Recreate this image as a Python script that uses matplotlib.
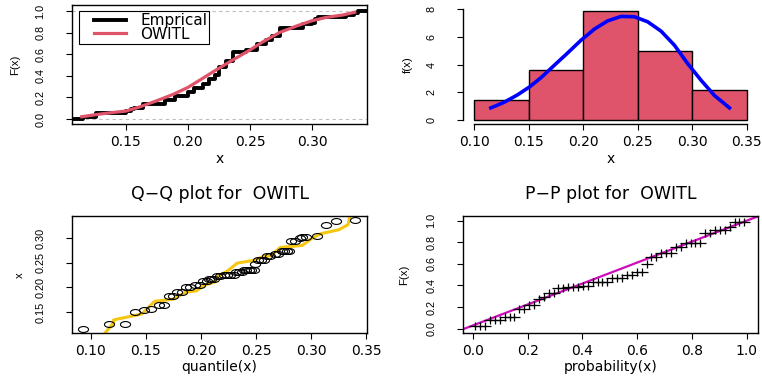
import numpy as np
import matplotlib
matplotlib.use("Agg")
import matplotlib.pyplot as plt
from matplotlib.lines import Line2D
from matplotlib.legend_handler import HandlerLine2D
from matplotlib.markers import MarkerStyle
from matplotlib.transforms import Affine2D

# sorted sample (n = 56), read from the ECDF / Q-Q panels
sample_x = [0.116, 0.126, 0.126, 0.150,
            0.154, 0.157, 0.164, 0.164, 0.182, 0.182, 0.190, 0.190, 0.200, 0.200,
            0.205, 0.205, 0.212, 0.212, 0.217, 0.217, 0.217, 0.222, 0.222,
            0.225, 0.225, 0.225, 0.225, 0.231, 0.231, 0.231,
            0.236, 0.236, 0.236, 0.236, 0.236, 0.247,
            0.256, 0.256, 0.256, 0.263, 0.263, 0.268, 0.268,
            0.274, 0.274, 0.274, 0.274, 0.293, 0.293, 0.300,
            0.302, 0.302, 0.305, 0.327, 0.334, 0.337]

# fitted OWITL cdf
cdf_x = [0.1146, 0.1267, 0.140, 0.150, 0.1615, 0.175, 0.188, 0.200, 0.2097, 0.2204,
         0.2338, 0.250, 0.2606, 0.274, 0.2875, 0.300, 0.3116, 0.3249, 0.3343]
cdf_y = [0.022, 0.043, 0.062, 0.074, 0.114, 0.170, 0.228, 0.293, 0.361, 0.438,
         0.531, 0.639, 0.716, 0.802, 0.861, 0.910, 0.941, 0.963, 0.988]

# histogram (density scale) and fitted density
hist_edges = [0.10, 0.15, 0.20, 0.25, 0.30, 0.35]
hist_density = [1.43, 3.57, 7.86, 5.00, 2.14]
pdf_x = [0.1153, 0.1275, 0.1398, 0.1505, 0.1612, 0.1734, 0.1857, 0.1979, 0.2102, 0.2224,
         0.2346, 0.2469, 0.2591, 0.2714, 0.2836, 0.2958, 0.3081, 0.3203, 0.3341]
pdf_y = [0.85, 1.26, 1.80, 2.36, 3.04, 3.94, 4.84, 5.76, 6.57, 7.17,
         7.49, 7.47, 7.10, 6.42, 5.40, 4.06, 2.85, 1.75, 0.85]

# Q-Q: theoretical quantiles for each sorted observation
qq_theo = [0.093, 0.117, 0.131, 0.140, 0.148, 0.155, 0.162, 0.166, 0.171, 0.175,
           0.178, 0.183, 0.186, 0.190, 0.195, 0.199, 0.202, 0.205, 0.207, 0.209,
           0.212, 0.2145, 0.2175, 0.2206, 0.2236, 0.2266, 0.2296, 0.232, 0.2345, 0.237,
           0.2388, 0.241, 0.2433, 0.2457, 0.2478, 0.2494, 0.2515, 0.2545, 0.2575, 0.260,
           0.263, 0.2667, 0.2697, 0.273, 0.2755, 0.278, 0.280, 0.2818, 0.2855, 0.2894,
           0.2918, 0.2948, 0.3055, 0.313, 0.322, 0.340]
qq_line_x = [0.113, 0.1206, 0.1208, 0.1464, 0.158, 0.175, 0.186, 0.196, 0.2024, 0.213,
             0.216, 0.2236, 0.2327, 0.2478, 0.257, 0.263, 0.272, 0.2918, 0.301, 0.3085,
             0.325, 0.3333, 0.335]
qq_line_y = [0.1074, 0.128, 0.134, 0.146, 0.1717, 0.176, 0.190, 0.193, 0.204, 0.211,
             0.2236, 0.2325, 0.249, 0.2548, 0.263, 0.264, 0.281, 0.285, 0.300, 0.3087,
             0.3168, 0.327, 0.344]

# P-P: fitted probability for each sorted observation
pp_fit = [0.028, 0.028, 0.028, 0.078, 0.078, 0.078, 0.112, 0.112, 0.112,
          0.183, 0.183, 0.220, 0.220, 0.272, 0.290, 0.326, 0.326, 0.378, 0.378,
          0.387, 0.387, 0.387, 0.395, 0.395, 0.435, 0.435, 0.435, 0.435,
          0.467, 0.467, 0.467, 0.497, 0.497, 0.522, 0.522, 0.599, 0.667, 0.667,
          0.698, 0.698, 0.698, 0.754, 0.754, 0.790, 0.790, 0.790, 0.790,
          0.889, 0.889, 0.914, 0.914, 0.914, 0.939, 0.985, 0.985, 0.985]
pp_ref_x = [0.0, 1.0]
pp_ref_y = [0.03, 1.0]

RED = "#DF536B"
BLUE = "#0000FF"
YELLOW = "#F5C710"
MAGENTA = "#CD0BBC"
HFONT = "DejaVu Sans"
VFONT = "Liberation Sans"

plt.rcParams["font.family"] = HFONT
plt.rcParams["axes.linewidth"] = 1.0

fig = plt.figure(figsize=(7.62, 3.77), dpi=100)
ax_cdf = fig.add_axes([0.0949, 0.6711, 0.3864, 0.3156])
ax_hist = fig.add_axes([0.6080, 0.6711, 0.3864, 0.3156])
ax_qq = fig.add_axes([0.0949, 0.1167, 0.3864, 0.3095])
ax_pp = fig.add_axes([0.6080, 0.1167, 0.3864, 0.3095])


def style(ax, xticks, yticks, xfmt, yfmt, xlabel, ylabel, ylab_x):
    ax.set_xticks(xticks)
    ax.set_yticks(yticks)
    ax.set_xticklabels([xfmt % v for v in xticks], fontsize=10, fontfamily=HFONT)
    ax.set_yticklabels([yfmt % v for v in yticks], fontsize=7.8, fontfamily=VFONT,
                       rotation=90, va="center")
    ax.tick_params(axis="x", direction="out", length=4.3, width=0.8, pad=3.5)
    ax.tick_params(axis="y", direction="out", length=4.3, width=0.8, pad=15)
    ax.set_xlabel(xlabel, fontsize=10, fontfamily=HFONT, va="center")
    ax.set_ylabel(ylabel, fontsize=8.2, fontfamily=VFONT, va="center")
    ax.xaxis.set_label_coords(0.5, -0.295)
    ax.yaxis.set_label_coords(ylab_x, 0.5)


def title(ax, text):
    ax.text(0.5, 1.19, text, transform=ax.transAxes, ha="center", va="center",
            fontsize=12.5, fontfamily=HFONT)


# ---- ECDF vs fitted cdf ----
xs = np.sort(np.array(sample_x))
n = len(xs)
xlo, xhi = 0.107, 0.344
ax_cdf.set_xlim(xlo, xhi)
ax_cdf.set_ylim(-0.045, 1.055)
ax_cdf.axhline(0, color="#BEBEBE", ls=(0, (3, 3)), lw=0.8)
ax_cdf.axhline(1, color="#BEBEBE", ls=(0, (3, 3)), lw=0.8)
ax_cdf.step(np.r_[xlo, xs, xhi], np.r_[0, np.arange(1, n + 1) / n, 1], where="post",
            color="black", lw=2.8, label="Emprical")
ax_cdf.plot(cdf_x, cdf_y, color=RED, lw=2.3, label="OWITL")
leg = ax_cdf.legend(loc="upper left", bbox_to_anchor=(0.0228, 0.9496), borderaxespad=0,
                    fancybox=False, edgecolor="black", framealpha=1, fontsize=11,
                    handlelength=2.95, handletextpad=0.9, borderpad=0.15,
                    labelspacing=-0.1, handler_map={Line2D: HandlerLine2D(xpad=0.85)})
leg.get_frame().set_linewidth(0.8)
style(ax_cdf, [0.15, 0.20, 0.25, 0.30], [0.0, 0.2, 0.4, 0.6, 0.8, 1.0], "%.2f", "%.1f",
      "x", "F(x)", -0.195)

# ---- histogram + density ----
ax_hist.bar(hist_edges[:-1], hist_density, width=np.diff(hist_edges), align="edge",
            color=RED, edgecolor="black", linewidth=1.0)
ax_hist.plot(pdf_x, pdf_y, color=BLUE, lw=2.6)
ax_hist.set_xlim(0.09, 0.36)
ax_hist.set_ylim(-0.32, 8.32)
for side in ["top", "right"]:
    ax_hist.spines[side].set_visible(False)
ax_hist.spines["bottom"].set_bounds(0.10, 0.35)
ax_hist.spines["left"].set_bounds(0, 8)
style(ax_hist, [0.10, 0.15, 0.20, 0.25, 0.30, 0.35], [0, 2, 4, 6, 8], "%.2f", "%d",
      "x", "f(x)", -0.188)

# ---- Q-Q ----
ell = MarkerStyle("o", fillstyle="none", transform=Affine2D().scale(1.45, 0.85))
ax_qq.plot(qq_line_x, qq_line_y, color=YELLOW, lw=2.2)
ax_qq.plot(qq_theo, xs, ls="none", marker=ell, ms=5, mec="black", mew=0.8)
ax_qq.set_xlim(0.0833, 0.3503)
ax_qq.set_ylim(0.1074, 0.344)
style(ax_qq, [0.10, 0.15, 0.20, 0.25, 0.30, 0.35], [0.15, 0.20, 0.25, 0.30], "%.2f", "%.2f",
      "quantile(x)", "x", -0.178)
title(ax_qq, "Q\u2212Q plot for  OWITL")

# ---- P-P ----
pp_emp = (np.arange(1, n + 1) - 0.5) / n
plus = MarkerStyle("+", transform=Affine2D().scale(1.5, 0.9))
ax_pp.axline((pp_ref_x[0], pp_ref_y[0]), (pp_ref_x[1], pp_ref_y[1]), color=MAGENTA, lw=1.6)
ax_pp.plot(pp_emp, pp_fit, ls="none", marker=plus, ms=6, mec="black", mew=0.9)
ax_pp.set_xlim(-0.035, 1.04)
ax_pp.set_ylim(-0.04, 1.04)
style(ax_pp, [0.0, 0.2, 0.4, 0.6, 0.8, 1.0], [0.0, 0.2, 0.4, 0.6, 0.8, 1.0], "%.1f", "%.1f",
      "probability(x)", "F(x)", -0.2)
title(ax_pp, "P\u2212P plot for  OWITL")

fig.savefig("out.png", dpi=100)
